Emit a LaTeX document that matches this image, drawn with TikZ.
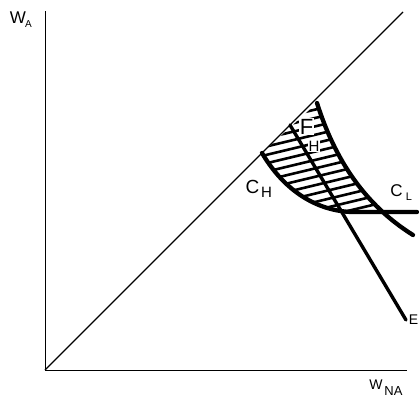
\documentclass[tikz,border=0pt]{standalone}
\usepackage{fontspec}
\setmainfont{Liberation Sans}
\begin{document}
\begin{tikzpicture}[x=1pt,y=-1pt,
  lbl/.style={inner sep=0pt,anchor=center},
  fs/.style={font=\fontsize{#1}{#1}\selectfont},
  axisline/.style={line width=0.9pt},
  diagline/.style={line width=1.3pt},
  thickcurve/.style={line width=4.3pt,line cap=round},
  eline/.style={line width=3.4pt,line cap=round},
  hatchline/.style={line width=2.6pt}]
\useasboundingbox (0,0) rectangle (419,400);
% coordinates
\coordinate (O) at (45,370);
\coordinate (Ytop) at (45,11);
\coordinate (Xend) at (407,370);
\coordinate (Dend) at (403,12);
\coordinate (CHs) at (262,153);
\coordinate (CLs) at (317,103);
\coordinate (CLe) at (413,235);
\coordinate (CHm) at (352,212);
\coordinate (CHe) at (417,212);
\coordinate (Es) at (290,125);
\coordinate (Ee) at (406,320);
% hatching
\begin{scope}
  \clip (CHs) -- (CLs) .. controls (335,160) and (365,205) .. (CLe) -- (262,235) -- cycle;
  \clip (CHs) .. controls (285,192) and (318,211) .. (CHm) -- (CHe) -- (417,80) -- (262,80) -- cycle;
  \foreach \k in {0,...,18} {
    \draw[hatchline] (250,{100+8.4*\k}) -- (425,{100+8.4*\k-42});
  }
\end{scope}
% F_H label (blank behind it)
\node[lbl,fs=22,fill=white,inner sep=1pt] (fh-f) at (306.5,126.5) {F};
\node[lbl,fs=15,fill=white,inner sep=1pt] (fh-h) at (314,146) {H};
% axes
\draw[axisline] (Ytop) -- (O) -- (Xend);
\draw[diagline] (O) -- (Dend);
% curves
\draw[thickcurve] (CHs) .. controls (285,192) and (318,211) .. (CHm) -- (CHe);
\draw[thickcurve] (CLs) .. controls (335,160) and (365,205) .. (CLe);
\draw[eline] (Es) -- (Ee);
% labels
\node[lbl,fs=17] (wa-w) at (18,18) {W};
\node[lbl,fs=10] (wa-a) at (28.5,24.5) {A};
\node[lbl,fs=14] (wna-w) at (376,385) {W};
\node[lbl,fs=13] (wna-na) at (393.5,391) {NA};
\node[lbl,fs=19] (ch-c) at (252.5,186.5) {C};
\node[lbl,fs=15] (ch-h) at (266.5,192.5) {H};
\node[lbl,fs=17] (cl-c) at (396.5,191) {C};
\node[lbl,fs=11] (cl-l) at (409,197) {L};
\node[lbl,fs=14,anchor=east] (e) at (418.5,320) {E};
\end{tikzpicture}
\end{document}
